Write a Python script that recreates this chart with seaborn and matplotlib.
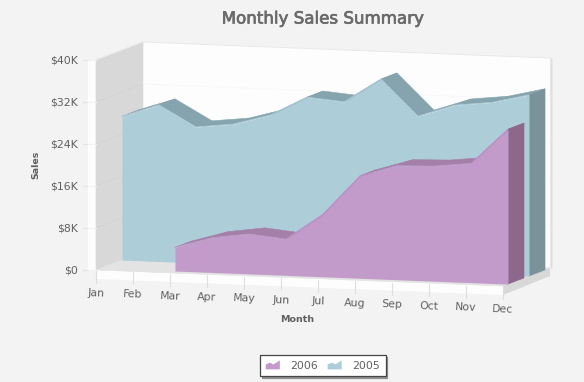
import numpy as np
import pandas as pd
import matplotlib
matplotlib.use("Agg")
import matplotlib.pyplot as plt
import matplotlib.patheffects as pe
import seaborn as sns
from matplotlib.patches import Polygon
from matplotlib.legend_handler import HandlerBase
from matplotlib.transforms import Affine2D

months = ["Jan", "Feb", "Mar", "Apr", "May", "Jun", "Jul", "Aug", "Sep", "Oct", "Nov", "Dec"]
sales_2005 = [27.4, 29.8, 25.9, 26.7, 28.7, 32.4, 31.8, 36.4, 29.6, 32.0, 32.8, 34.5]
sales_2006 = [np.nan, np.nan, 4.5, 6.6, 7.6, 6.9, 11.9, 19.5, 21.7, 21.9, 22.7, 29.5]
y_ticks = [0, 8, 16, 24, 32, 40]
y_labels = ["$0", "$8K", "$16K", "$24K", "$32K", "$40K"]

BG = "#f3f3f3"
sns.set_theme(style="white", rc={"figure.facecolor": BG, "axes.facecolor": BG})
plt.rcParams["font.family"] = ["DejaVu Sans"]
TXT = "#5f5f5f"

fig = plt.figure(figsize=(5.84, 3.82), dpi=100)
ax = fig.add_axes([0, 0, 1, 1])
ax.set_xlim(0, 584)
ax.set_ylim(382, 0)
ax.axis("off")

# Oblique projection: month index, value ($K), depth (0 front .. 1 back) -> screen
OX, OY = 96.0, 270.0
MX, MY = 37.0, 16.0 / 11
VY = 210.0 / 40
DX, DY = 47.0, -18.0


def proj(m, v, d):
    return OX + m * MX + d * DX, OY + m * MY - v * VY + d * DY


def plane(d):
    """Transform from (month, value) data at depth d to the axes' pixel scale."""
    ox, oy = proj(0, 0, d)
    return Affine2D.from_values(MX, MY, 0, -VY, ox, oy) + ax.transData


def poly(pts, color, z, **kw):
    ax.add_patch(Polygon([proj(*p) for p in pts], closed=True, facecolor=color,
                         edgecolor=color, linewidth=0.4, zorder=z, **kw))


LAST = len(months) - 1
TOP = y_ticks[-1]

# left margin strip and bottom front strip
ax.add_patch(Polygon([(88, 60), (96, 60), (96, 270), (88, 270)], facecolor="#fdfdfd", edgecolor="none", zorder=1))
ax.add_patch(Polygon([proj(0, 0, 0), proj(LAST, 0, 0), (proj(LAST, 0, 0)[0], proj(LAST, 0, 0)[1] + 9),
                      (96, 279)], facecolor="#fdfdfd", edgecolor="none", zorder=1))
# walls and floor
x1, y1 = proj(LAST, TOP, 1)
x2, y2 = proj(LAST, 0, 1)
ax.add_patch(Polygon([(x1, y1), (x1 + 2.5, y1 + 1), (x2 + 2.5, y2 + 1), (x2, y2)], facecolor="#dfdfdf", edgecolor="none", zorder=1))
poly([(0, TOP, 1), (LAST, TOP, 1), (LAST, 0, 1), (0, 0, 1)], "#fdfdfd", 2)
poly([(0, TOP, 0), (0, TOP, 1), (0, 0, 1), (0, 0, 0)], "#d8d8d8", 2)
poly([(0, 0, 0), (LAST, 0, 0), (LAST, 0, 1), (0, 0, 1)], "#e3e3e3", 2)
fx, fy = proj(LAST, 0, 0)
ax.add_patch(Polygon([(fx, fy), (fx, fy + 9), (x2, y2 + 8), (x2, y2)], facecolor="#d8d8d8", edgecolor="none", zorder=2))

# top edge of back wall
ax.plot(*zip(proj(0, TOP, 1), proj(LAST, TOP, 1)), color="#e8e8e8", lw=0.7, zorder=3)
ax.plot(*zip(proj(0, TOP, 0), proj(0, TOP, 1)), color="#e8e8e8", lw=0.7, zorder=3)

# gridlines, y ticks
for v, lab in zip(y_ticks, y_labels):
    if 0 < v < TOP:
        ax.plot(*zip(proj(0, v, 0), proj(0, v, 1)), color="#d3d3d3", lw=0.6, zorder=3)
        ax.plot(*zip(proj(0, v, 1), proj(LAST, v, 1)), color="#f8f8f8", lw=0.7, zorder=3)
    sx, sy = proj(0, v, 0)
    ax.plot([sx - 13, sx - 8], [sy, sy], color="#e4e4e4", lw=0.9, zorder=3)
    ax.plot([sx - 8, sx], [sy, sy], color="#f2f2f2", lw=0.9, zorder=3)
    ax.text(sx - 18, sy + 0.8, lab, ha="right", va="center", fontsize=7.8, color=TXT, zorder=6)

# x ticks and labels
for i, m in enumerate(months):
    sx, sy = proj(i, 0, 0)
    ax.plot([sx, sx], [sy + 1, sy + 13], color="#dedede", lw=0.8, zorder=3)
    ax.text(sx, sy + 23, m, ha="center", va="center", fontsize=7.8, color=TXT,
            rotation=-2.2, rotation_mode="anchor", zorder=6)


def area(values, d0, d1, front, top, side, z):
    idx = np.arange(len(values))
    vals = np.asarray(values, dtype=float)
    ok = ~np.isnan(vals)
    idx, vals = idx[ok], vals[ok]
    # top surface
    for a, b in zip(range(len(idx) - 1), range(1, len(idx))):
        poly([(idx[a], vals[a], d0), (idx[b], vals[b], d0), (idx[b], vals[b], d1), (idx[a], vals[a], d1)], top, z)
    # end face
    poly([(idx[-1], vals[-1], d0), (idx[-1], vals[-1], d1), (idx[-1], 0, d1), (idx[-1], 0, d0)], side, z)
    # front face
    tr = plane(d0)
    ax.fill_between(idx, 0, vals, transform=tr, color=front, lw=0, zorder=z + 0.5)
    sns.lineplot(x=idx, y=vals, transform=tr, color=front, lw=0.6, ax=ax, zorder=z + 0.6, legend=False)


C05 = ("#adcdd8", "#86a4ae", "#7a9299")
C06 = ("#c39bcb", "#a47fa8", "#8c688d")
area(sales_2005, 0.553, 0.894, *C05, 4)
area(sales_2006, 0.106, 0.447, *C06, 5)
ax.set_xlim(0, 584)
ax.set_ylim(382, 0)
ax.axis("off")

# titles
ax.text(322.5, 18.5, "Monthly Sales Summary", ha="center", va="center", fontsize=12,
        color="#6a6a6a", zorder=7,
        path_effects=[pe.withStroke(linewidth=0.5, foreground="#6a6a6a")])
ax.text(36, 165, "Sales", ha="center", va="center", rotation=90, fontsize=6.8, fontweight="bold", color=TXT, zorder=7)
ax.text(297, 320, "Month", ha="center", va="center", fontsize=6.8, fontweight="bold", color=TXT, zorder=7)


class MiniArea(HandlerBase):
    def create_artists(self, legend, orig, xd, yd, w, h, fs, trans):
        shape = np.array([[0, 0], [0, .55], [.3, .75], [.55, .55], [1, 1], [1, 0]])
        p = Polygon(shape * [w, h] + [-xd, -yd], closed=True, facecolor=orig.get_facecolor(),
                    edgecolor="none", transform=trans)
        return [p]


handles = [Polygon([[0, 0]], facecolor=C06[0], label="2006"), Polygon([[0, 0]], facecolor=C05[0], label="2005")]
leg = ax.legend(handles=handles, ncol=2, loc="center", bbox_to_anchor=(323 / 584, 1 - 365.5 / 382),
                bbox_transform=fig.transFigure, fontsize=7.8, frameon=True, fancybox=False,
                shadow={"ox": 1.2, "oy": -1.2, "color": "#8a8a8a", "alpha": 0.9},
                edgecolor="#444444", facecolor="white", framealpha=1, labelcolor=TXT,
                handler_map={Polygon: MiniArea()}, handlelength=1.3, handleheight=0.9, handletextpad=1.0,
                columnspacing=0.85, borderpad=0.5, borderaxespad=0)
leg.get_frame().set_linewidth(0.9)
leg.set_zorder(8)

fig.savefig("out.png", dpi=100, facecolor=BG)
